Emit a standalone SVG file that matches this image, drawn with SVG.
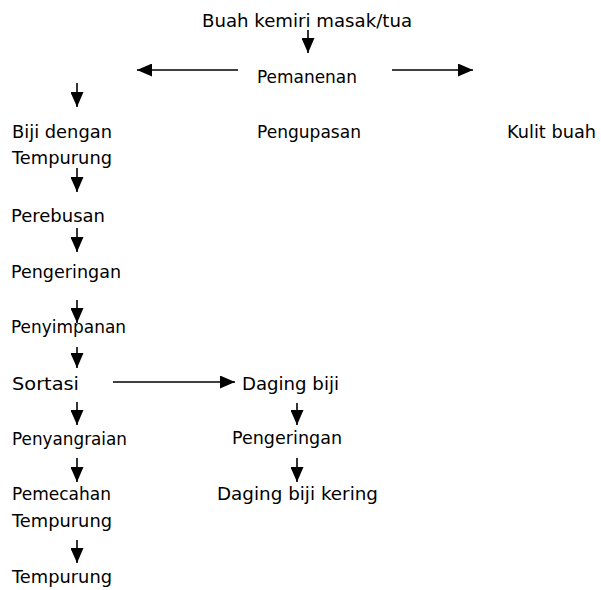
<svg xmlns="http://www.w3.org/2000/svg" width="601" height="590" viewBox="0 0 601 590">
<defs>
<marker id="ah" markerUnits="userSpaceOnUse" markerWidth="15" markerHeight="13" refX="15" refY="6.5" orient="auto">
<path d="M0,0 L15,6.5 L0,13 z" fill="#000"/>
</marker>
<style>
text{font-family:"DejaVu Sans","Liberation Sans",sans-serif;font-size:17.5px;fill:#000}
.c line{stroke:#000;stroke-width:1.6;marker-end:url(#ah)}
</style>
</defs>
<rect width="601" height="590" fill="#fff"/>
<g id="n1"><text x="202" y="27" textLength="210" lengthAdjust="spacingAndGlyphs">Buah kemiri masak/tua</text></g>
<g id="n2"><text x="257" y="83" textLength="100" lengthAdjust="spacingAndGlyphs">Pemanenan</text></g>
<g id="n3"><text x="12" y="138" textLength="100" lengthAdjust="spacingAndGlyphs">Biji dengan</text><text x="12" y="164" textLength="100" lengthAdjust="spacingAndGlyphs">Tempurung</text></g>
<g id="n4"><text x="257" y="138" textLength="104" lengthAdjust="spacingAndGlyphs">Pengupasan</text></g>
<g id="n5"><text x="507" y="138" textLength="89" lengthAdjust="spacingAndGlyphs">Kulit buah</text></g>
<g id="n6"><text x="11" y="222" textLength="94" lengthAdjust="spacingAndGlyphs">Perebusan</text></g>
<g id="n7"><text x="11" y="278" textLength="110" lengthAdjust="spacingAndGlyphs">Pengeringan</text></g>
<g id="n8"><text x="11" y="333" textLength="115" lengthAdjust="spacingAndGlyphs">Penyimpanan</text></g>
<g id="n9"><text x="12" y="390" textLength="67" lengthAdjust="spacingAndGlyphs">Sortasi</text></g>
<g id="n10"><text x="242" y="390" textLength="97" lengthAdjust="spacingAndGlyphs">Daging biji</text></g>
<g id="n11"><text x="12" y="445" textLength="115" lengthAdjust="spacingAndGlyphs">Penyangraian</text></g>
<g id="n12"><text x="232" y="444" textLength="110" lengthAdjust="spacingAndGlyphs">Pengeringan</text></g>
<g id="n13"><text x="12" y="500" textLength="99" lengthAdjust="spacingAndGlyphs">Pemecahan</text><text x="12" y="527" textLength="100" lengthAdjust="spacingAndGlyphs">Tempurung</text></g>
<g id="n14"><text x="217" y="500" textLength="161" lengthAdjust="spacingAndGlyphs">Daging biji kering</text></g>
<g id="n15"><text x="12" y="583" textLength="100" lengthAdjust="spacingAndGlyphs">Tempurung</text></g>
<g id="connectors" class="c">
<line x1="308" y1="30" x2="308" y2="53"/>
<line x1="238" y1="70" x2="137" y2="70"/>
<line x1="392" y1="70" x2="473" y2="70"/>
<line x1="77" y1="83" x2="77" y2="107"/>
<line x1="77" y1="168" x2="77" y2="192"/>
<line x1="77" y1="228" x2="77" y2="252"/>
<line x1="77" y1="300" x2="77" y2="323"/>
<line x1="77" y1="347" x2="77" y2="368"/>
<line x1="113" y1="382" x2="235" y2="382"/>
<line x1="77" y1="402" x2="77" y2="425"/>
<line x1="297" y1="403" x2="297" y2="425"/>
<line x1="77" y1="458" x2="77" y2="482"/>
<line x1="297" y1="458" x2="297" y2="482"/>
<line x1="77" y1="540" x2="77" y2="563"/>
</g>
</svg>
